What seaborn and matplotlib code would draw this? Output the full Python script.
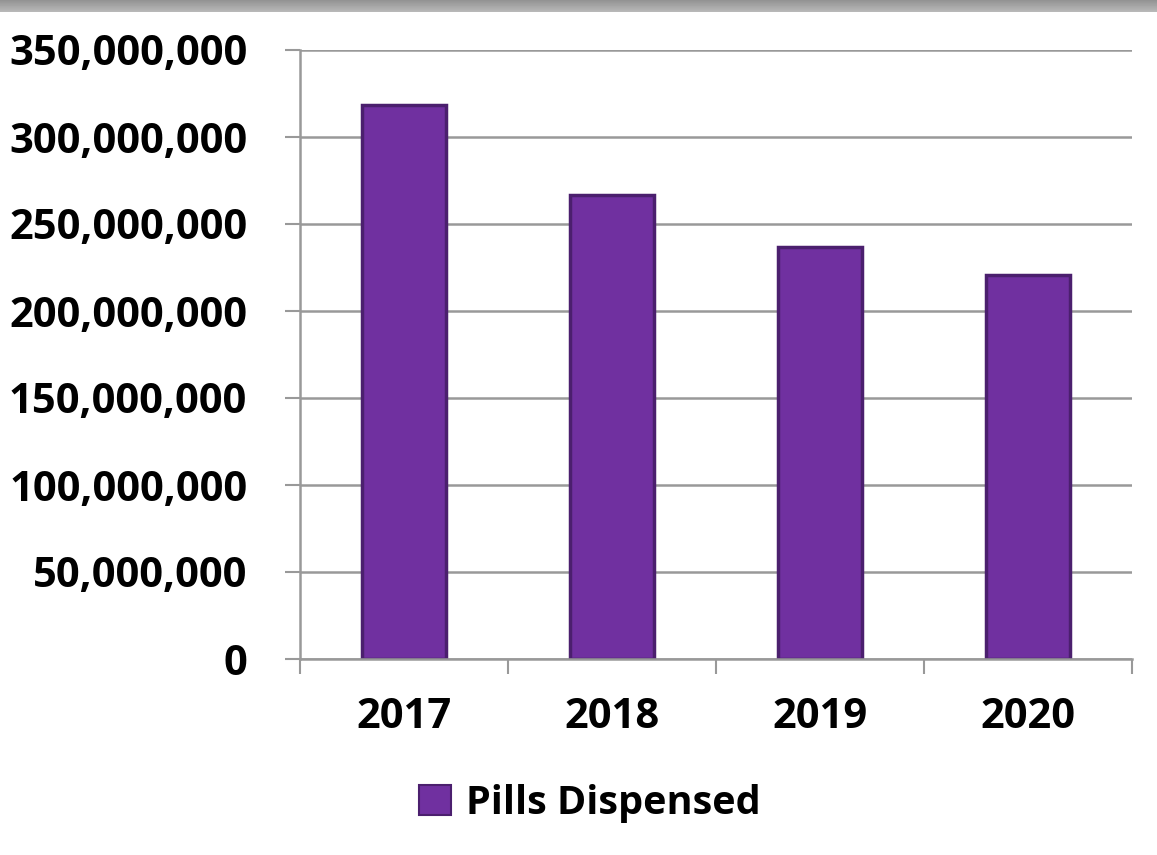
import matplotlib
matplotlib.use("Agg")
import matplotlib.pyplot as plt
import matplotlib.ticker as mticker
import numpy as np
import pandas as pd
import seaborn as sns
from matplotlib.patches import Patch

years = ["2017", "2018", "2019", "2020"]
pills = [318_500_000, 266_500_000, 236_500_000, 220_500_000]
series_name = "Pills Dispensed"

df = pd.DataFrame({"year": years, "pills": pills})

sns.set_style("white")
plt.rcParams["font.family"] = ["Open Sans", "DejaVu Sans"]
plt.rcParams["text.color"] = "black"
plt.rcParams["xtick.color"] = "#999999"
plt.rcParams["ytick.color"] = "#999999"
plt.rcParams["xtick.labelcolor"] = "black"
plt.rcParams["ytick.labelcolor"] = "black"

fig = plt.figure(figsize=(11.57, 8.55), dpi=100)

# grey gradient band on top edge
band = fig.add_axes([0, 1 - 12 / 855, 1, 12 / 855])
grad = np.linspace(0.58, 0.72, 12).reshape(-1, 1)
band.imshow(grad, aspect="auto", cmap="gray", vmin=0, vmax=1)
band.axis("off")

ax = fig.add_axes([300 / 1157, 1 - 659 / 855, 832 / 1157, 609 / 855])
sns.barplot(data=df, x="year", y="pills", color="#7030A0", width=0.4,
            edgecolor="#4B1F6E", linewidth=2.5, saturation=1, ax=ax)

ax.set_ylim(0, 350_000_000)
ax.set_xlim(-0.5, 3.5)
ax.yaxis.set_major_locator(mticker.MultipleLocator(50_000_000))
ax.yaxis.set_major_formatter(mticker.FuncFormatter(lambda v, p: f"{int(v):,}"))
ax.set_xticks([-0.5, 0.5, 1.5, 2.5, 3.5], minor=False)
ax.set_xticks([0, 1, 2, 3], minor=True)
ax.set_xticklabels([])
ax.set_xticklabels(years, minor=True)
ax.tick_params(bottom=True, left=True, which="both")
ax.tick_params(axis="x", which="major", length=11, width=1.5, color="#999999", direction="out")
ax.tick_params(axis="x", which="minor", length=0, pad=27, labelsize=30)
ax.tick_params(axis="y", length=11, width=1.5, color="#999999", direction="out",
               pad=27, labelsize=30)
for lab in ax.get_xticklabels(minor=True) + ax.get_yticklabels():
    lab.set_fontweight("bold")
    lab.set_color("black")

ax.grid(axis="y", color="#999999", linewidth=1.8)
ax.set_axisbelow(True)
for s in ["top", "right"]:
    ax.spines[s].set_visible(False)
for s in ["left", "bottom"]:
    ax.spines[s].set_color("#999999")
    ax.spines[s].set_linewidth(1.8)
ax.set_xlabel("")
ax.set_ylabel("")

handle = Patch(facecolor="#7030A0", edgecolor="#4B1F6E", linewidth=1.5)
fig.legend([handle], [series_name], loc="center", bbox_to_anchor=(590 / 1157, 1 - 803 / 855),
           frameon=False, prop={"size": 28.5, "weight": "bold"}, labelcolor="black",
           handlelength=0.8, handleheight=0.8, handletextpad=0.4)

fig.savefig("out.png", dpi=100)
